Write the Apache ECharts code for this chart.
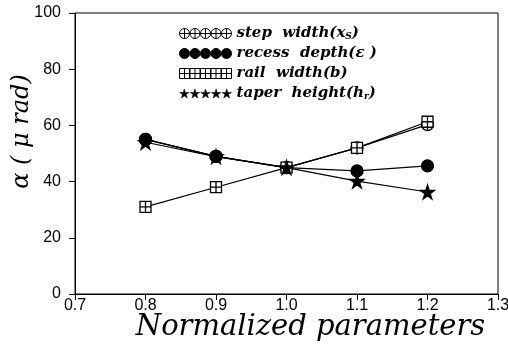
<!DOCTYPE html>
<html><head><meta charset="utf-8">
<script src="https://cdn.jsdelivr.net/npm/echarts@6/dist/echarts.min.js"></script>
<style>html,body{margin:0;padding:0;background:#fff}#c{width:508px;height:346px}</style>
</head><body><div id="c"></div>
<script>
const xValues = [0.8, 0.9, 1.0, 1.1, 1.2];
const stepWidth = [55, 49, 45, 52, 60.3];
const recessDepth = [55, 49, 45, 43.8, 45.6];
const railWidth = [31, 38, 45, 52, 61.3];
const taperHeight = [54, 48.9, 45, 40.2, 36.3];
const xTicks = [0.7, 0.8, 0.9, 1.0, 1.1, 1.2, 1.3];
const yTicks = [0, 20, 40, 60, 80, 100];

const symCrossCircle = 'path://M0,-10A10,10,0,1,1,0,10A10,10,0,1,1,0,-10ZM0,-10L0,10M-10,0L10,0';
const symCrossSquare = 'path://M-10,-10L10,-10L10,10L-10,10ZM0,-10L0,10M-10,0L10,0';
const starPts = [[0,-10],[2.23,-3.07],[9.51,-3.09],[3.61,1.17],[5.88,8.09],[0,3.8],[-5.88,8.09],[-3.61,1.17],[-9.51,-3.09],[-2.23,-3.07]];
const symStar = 'path://M' + starPts.map(p => p.join(',')).join('L') + 'Z';

function repeatIcon(kind) {
  let d = '';
  for (let i = 0; i < 5; i++) {
    const cx = i * 21 + 10, cy = 10;
    if (kind === 'cc') d += `M${cx},${cy-10}A10,10,0,1,1,${cx},${cy+10}A10,10,0,1,1,${cx},${cy-10}ZM${cx},${cy-10}L${cx},${cy+10}M${cx-10},${cy}L${cx+10},${cy}`;
    else if (kind === 'dot') d += `M${cx},${cy-10}A10,10,0,1,1,${cx},${cy+10}A10,10,0,1,1,${cx},${cy-10}Z`;
    else if (kind === 'sq') d += `M${cx-10},${cy-10}L${cx+10},${cy-10}L${cx+10},${cy+10}L${cx-10},${cy+10}ZM${cx},${cy-10}L${cx},${cy+10}M${cx-10},${cy}L${cx+10},${cy}`;
    else d += 'M' + starPts.map(p => (p[0]+cx) + ',' + (p[1]+cy)).join('L') + 'Z';
  }
  return 'path://' + d;
}

const names = ['step width', 'recess depth', 'rail width', 'taper height'];
const legendRich = {
  'step width': '{t|step  width(}{i|x}{s|S}{t|)}',
  'recess depth': '{t|recess  depth(}{i|ε}{t| )}',
  'rail width': '{t|rail  width(b)}',
  'taper height': '{t|taper  height(}{i|h}{s|r}{t|)}'
};

function mk(name, data, symbol, fill, size) {
  return {
    name: name, type: 'line', data: xValues.map((x, i) => [x, data[i]]),
    symbol: symbol, symbolSize: size, showSymbol: true,
    lineStyle: {color: '#000', width: 1.2},
    itemStyle: {color: fill, borderColor: '#000', borderWidth: 1.3},
    emphasis: {disabled: true}, animation: false, z: 3
  };
}

const fam = 'DejaVu Serif';
const chart = echarts.init(document.getElementById('c'));
chart.setOption({
  animation: false,
  backgroundColor: '#fff',
  grid: {left: 75, right: 10, top: 13, bottom: 52, show: true, borderColor: '#000', borderWidth: 1,
    containLabel: false, outerBoundsMode: 'none'},
  legend: {
    orient: 'vertical', left: 174, top: 21, itemWidth: 52, itemHeight: 11, itemGap: 5,
    selectedMode: false,
    data: [
      {name: names[0], icon: repeatIcon('cc'), itemStyle: {color: '#fff', borderColor: '#000', borderWidth: 1}},
      {name: names[1], icon: repeatIcon('dot'), itemStyle: {color: '#000', borderColor: '#000', borderWidth: 1}},
      {name: names[2], icon: repeatIcon('sq'), itemStyle: {color: '#fff', borderColor: '#000', borderWidth: 1}},
      {name: names[3], icon: repeatIcon('star'), itemStyle: {color: '#000', borderColor: '#000', borderWidth: 0.5}}
    ],
    formatter: n => legendRich[n],
    textStyle: {
      rich: {
        t: {fontFamily: fam, fontStyle: 'italic', fontWeight: 'bold', fontSize: 15, color: '#000', lineHeight: 15},
        i: {fontFamily: fam, fontStyle: 'italic', fontWeight: 'bold', fontSize: 15, color: '#000', lineHeight: 15},
        s: {fontFamily: fam, fontStyle: 'italic', fontWeight: 'bold', fontSize: 9, color: '#000', padding: [6, 0, 0, 0], lineHeight: 15}
      }
    }
  },
  xAxis: {
    type: 'value', min: 0.7, max: 1.3, interval: 0.1,
    name: 'Normalized parameters', nameLocation: 'middle', nameGap: 19, nameMoveOverlap: false,
    nameTextStyle: {fontFamily: fam, fontStyle: 'italic', fontSize: 29, color: '#000', padding: [0, 0, 0, 48]},
    axisLine: {lineStyle: {color: '#000', width: 1}},
    axisTick: {show: true, inside: false, length: 6, lineStyle: {color: '#000'}},
    axisLabel: {color: '#000', fontFamily: 'Liberation Sans', fontSize: 16, margin: 4,
      formatter: v => xTicks.find(t => Math.abs(t - v) < 1e-6).toFixed(1)},
    splitLine: {show: false}
  },
  yAxis: {
    type: 'value', min: 0, max: 100, interval: 20,
    name: 'α ( μ rad)', nameLocation: 'middle', nameGap: 41, nameRotate: 90, nameMoveOverlap: false,
    nameTextStyle: {fontFamily: fam, fontStyle: 'italic', fontSize: 24, color: '#000', padding: [0, 0, 0, 44]},
    axisLine: {lineStyle: {color: '#000', width: 1}},
    axisTick: {show: true, inside: false, length: 6, lineStyle: {color: '#000'}},
    axisLabel: {color: '#000', fontFamily: 'Liberation Sans', fontSize: 16, margin: 14,
      formatter: v => String(yTicks.find(t => t === v))},
    splitLine: {show: false}
  },
  series: [
    mk(names[0], stepWidth, symCrossCircle, '#fff', 12),
    mk(names[1], recessDepth, 'circle', '#000', 12),
    mk(names[2], railWidth, symCrossSquare, '#fff', 11),
    mk(names[3], taperHeight, symStar, '#000', 14)
  ]
});
</script></body></html>
